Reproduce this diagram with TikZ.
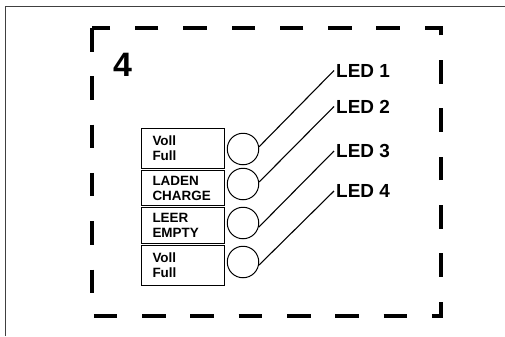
\documentclass[tikz,border=0pt]{standalone}
\usepackage{fontspec}
\setmainfont{Liberation Sans}
\usetikzlibrary{positioning}

\tikzset{
  field/.style={draw,line width=1pt,rectangle,text width=61bp,inner xsep=11bp,inner ysep=0pt,
    minimum width=83bp,align=left,font=\fontsize{13.5}{15}\selectfont\bfseries},
  lamp/.style={draw,line width=1pt,circle,minimum size=31.5bp,inner sep=0pt},
  ledlabel/.style={anchor=west,inner xsep=2bp,inner ysep=0pt,font=\fontsize{19}{22}\selectfont\bfseries},
  wire/.style={line width=1.1pt},
}

\begin{document}
\begin{tikzpicture}[x=1bp,y=-1bp]
  \useasboundingbox (0,0) rectangle (505,336);
  % frame of the page
  \draw[line width=1bp,black!75] (5.5,336) -- (5.5,6) -- (505,6);
  % dashed outline
  \draw[line width=4bp,dash pattern=on 23.5bp off 24.8bp] (92,28) rectangle (441,316);
  \node[font=\fontsize{34}{40}\selectfont\bfseries,inner sep=0pt] (num) at (122.5,65) {4};

  \node[field,anchor=north west,minimum height=40bp] (box1) at (141,128) {Voll\\Full};
  \node[field,below=1bp of box1,minimum height=35bp] (box2) {LADEN\\CHARGE};
  \node[field,below=1bp of box2,minimum height=36bp] (box3) {LEER\\EMPTY};
  \node[field,below=1bp of box3,minimum height=40bp] (box4) {Voll\\Full};

  \node[lamp] (led1) at (243,149) {};
  \node[lamp] (led2) at (243,184) {};
  \node[lamp] (led3) at (243,223) {};
  \node[lamp] (led4) at (243,262) {};

  \node[ledlabel] (lbl1) at (334,70.5) {LED 1};
  \node[ledlabel] (lbl2) at (334,106.5) {LED 2};
  \node[ledlabel] (lbl3) at (334,151) {LED 3};
  \node[ledlabel] (lbl4) at (334,191) {LED 4};

  \draw[wire] (led1.8) -- (lbl1.west);
  \draw[wire] (led2.7) -- (lbl2.west);
  \draw[wire] (led3.-15) -- (lbl3.west);
  \draw[wire] (led4.-11) -- (lbl4.west);
\end{tikzpicture}
\end{document}
